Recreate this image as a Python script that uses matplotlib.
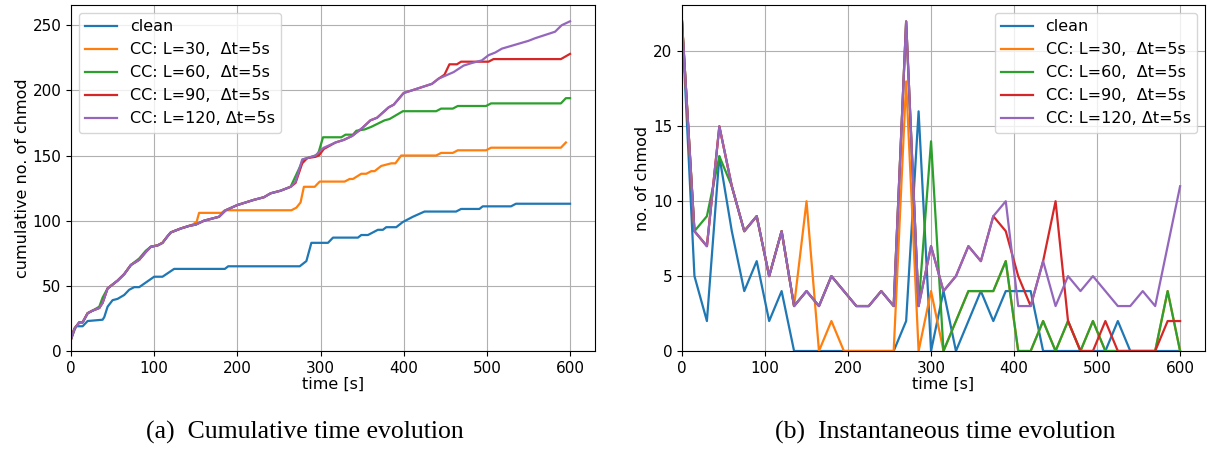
import matplotlib
matplotlib.use('Agg')
import matplotlib.pyplot as plt

# cumulative counts (breakpoints)
clean_cum_t = [0, 6, 14, 20, 38, 40, 44, 50, 56, 64, 70, 76, 82, 100, 110, 124, 185, 189, 275, 283,
               289, 309, 315, 345, 349, 357, 369, 375, 379, 391, 399, 405, 411, 425, 463, 469, 491,
               495, 529, 535, 600]
clean_cum = [9, 19, 19, 23, 24, 26, 34, 39, 40, 43, 47, 49, 49, 57, 57, 63, 63, 65, 65, 69,
             83, 83, 87, 87, 89, 89, 93, 93, 95, 95, 99, 101, 103, 107, 107, 109, 109,
             111, 111, 113, 113]

l30_cum_t = [0, 4, 10, 14, 20, 26, 34, 38, 44, 50, 56, 64, 72, 82, 90, 96, 104, 110, 116, 120,
             132, 142, 146, 151, 154, 181, 185, 265, 271, 276, 280, 293, 299, 329, 335, 339, 349,
             355, 361, 365, 373, 385, 390, 397, 439, 445, 459, 465, 499, 505, 589, 595]
l30_cum = [9, 17, 22, 22, 29, 31, 33, 37, 48, 51, 54, 59, 66, 70, 76, 80, 81, 83, 88, 91,
           94, 96, 97, 99, 106, 106, 108, 108, 110, 114, 126, 126, 130, 130, 132, 132, 136,
           136, 138, 138, 142, 144, 144, 150, 150, 152, 152, 154, 154, 156, 156, 160]

l60_cum_t = [0, 4, 10, 14, 20, 26, 34, 38, 44, 50, 56, 64, 72, 82, 90, 96, 104, 110, 116, 120,
             132, 142, 150, 160, 178, 186, 200, 220, 232, 240, 252, 264, 275, 279, 284, 294, 297,
             303, 325, 330, 339, 343, 353, 361, 377, 383, 399, 439, 445, 459, 465, 499, 505, 589,
             595, 600]
l60_cum = [9, 17, 22, 22, 29, 31, 34, 41, 48, 51, 54, 59, 66, 71, 77, 80, 81, 83, 88, 91,
           94, 96, 97, 100, 103, 108, 112, 116, 118, 121, 123, 126, 141, 147, 148, 150, 151,
           164, 164, 166, 166, 169, 170, 172, 177, 178, 184, 184, 186, 186, 188, 188, 190, 190,
           194, 194]

l90_cum_t = [0, 4, 10, 14, 20, 26, 34, 38, 44, 50, 56, 64, 72, 82, 90, 96, 104, 110, 116, 120,
             132, 142, 150, 160, 178, 186, 200, 220, 232, 240, 252, 264, 270, 278, 284, 294, 298,
             304, 318, 328, 338, 350, 360, 368, 382, 388, 400, 410, 434, 442, 449, 455, 464, 469,
             502, 508, 589, 600]
l90_cum = [9, 17, 22, 22, 29, 31, 33, 37, 48, 51, 54, 59, 66, 70, 76, 80, 81, 83, 88, 91,
           94, 96, 97, 100, 103, 108, 112, 116, 118, 121, 123, 126, 129, 144, 148, 149, 150,
           155, 160, 162, 165, 171, 177, 179, 187, 189, 198, 200, 205, 209, 212, 220, 220, 222,
           222, 224, 224, 228]

l120_cum_t = [0, 4, 10, 14, 20, 26, 34, 38, 44, 50, 56, 64, 72, 82, 90, 96, 104, 110, 116, 120,
              132, 142, 150, 160, 178, 186, 200, 220, 232, 240, 252, 264, 270, 278, 284, 294, 300,
              304, 318, 328, 338, 350, 360, 368, 382, 388, 400, 410, 434, 442, 460, 472, 482, 494,
              502, 510, 518, 534, 550, 558, 582, 590, 600]
l120_cum = [9, 17, 22, 22, 29, 31, 33, 37, 48, 51, 54, 59, 66, 70, 76, 80, 81, 83, 88, 91,
            94, 96, 97, 100, 103, 108, 112, 116, 118, 121, 123, 126, 130, 147, 148, 150, 154,
            156, 160, 162, 165, 171, 177, 179, 187, 189, 198, 200, 205, 209, 214, 219, 221, 223,
            227, 229, 232, 235, 238, 240, 245, 250, 253]

# instantaneous counts, one value every 15 s (right panel)
inst_t = [0, 15, 30, 45, 60, 75, 90, 105, 120, 135, 150, 165, 180, 195, 210, 225, 240, 255, 270, 285,
          300, 315, 330, 345, 360, 375, 390, 405, 420, 435, 450, 465, 480, 495, 510, 525, 540, 555,
          570, 585, 600]
clean_inst = [22, 5, 2, 13, 8, 4, 6, 2, 4, 0, 0, 0, 0, 0, 0, 0, 0, 0, 2, 16,
              0, 4, 0, 2, 4, 2, 4, 4, 4, 0, 0, 0, 0, 0, 0, 2, 0, 0, 0, 0, 0]
l30_inst = [22, 8, 7, 15, 11, 8, 9, 5, 8, 3, 10, 0, 2, 0, 0, 0, 0, 0, 18, 0,
            4, 0, 2, 4, 4, 4, 6, 0, 0, 2, 0, 2, 0, 2, 0, 0, 0, 0, 0, 4, 0]
l60_inst = [22, 8, 9, 13, 11, 8, 9, 5, 8, 3, 4, 3, 5, 4, 3, 3, 4, 3, 22, 3,
            14, 0, 2, 4, 4, 4, 6, 0, 0, 2, 0, 2, 0, 2, 0, 0, 0, 0, 0, 4, 0]
l90_inst = [22, 8, 7, 15, 11, 8, 9, 5, 8, 3, 4, 3, 5, 4, 3, 3, 4, 3, 22, 3,
            7, 4, 5, 7, 6, 9, 8, 5, 3, 6, 10, 2, 0, 0, 2, 0, 0, 0, 0, 2, 2]
l120_inst = [22, 8, 7, 15, 11, 8, 9, 5, 8, 3, 4, 3, 5, 4, 3, 3, 4, 3, 22, 3,
             7, 4, 5, 7, 6, 9, 10, 3, 3, 6, 3, 5, 4, 5, 4, 3, 3, 4, 3, 7, 11]

labels = ['clean', 'CC: L=30,  \u0394t=5s', 'CC: L=60,  \u0394t=5s',
          'CC: L=90,  \u0394t=5s', 'CC: L=120, \u0394t=5s']

plt.rcParams['font.size'] = 11.5
plt.rcParams['xtick.labelsize'] = 11
plt.rcParams['ytick.labelsize'] = 11
fig = plt.figure(figsize=(12.07, 4.49), dpi=100)
ax1 = fig.add_axes([71/1207, 98/449, 524/1207, 346/449])
ax2 = fig.add_axes([682/1207, 98/449, 523/1207, 346/449])

cum = [(clean_cum_t, clean_cum), (l30_cum_t, l30_cum), (l60_cum_t, l60_cum),
       (l90_cum_t, l90_cum), (l120_cum_t, l120_cum)]
for (t, v), lab in zip(cum, labels):
    ax1.plot(t, v, lw=1.6, label=lab)
ax1.set_xlim(left=0, right=630)
ax1.set_ylim(bottom=0, top=265.5)
ax1.set_xticks([0, 100, 200, 300, 400, 500, 600])
ax1.set_xlabel('time [s]', labelpad=1)
ax1.set_ylabel('cumulative no. of chmod', labelpad=2)
ax1.grid(True)
ax1.legend(loc='upper left')

for v, lab in zip([clean_inst, l30_inst, l60_inst, l90_inst, l120_inst], labels):
    ax2.plot(inst_t, v, lw=1.6, label=lab)
ax2.set_xlim(left=0, right=630)
ax2.set_ylim(bottom=0, top=23.1)
ax2.set_xticks([0, 100, 200, 300, 400, 500, 600])
ax2.set_xlabel('time [s]', labelpad=1)
ax2.set_ylabel('no. of chmod', labelpad=2)
ax2.grid(True)
ax2.legend(loc='upper right')

fig.text(305/1207, 0.036, '(a)  Cumulative time evolution', ha='center', va='center',
         family='Liberation Serif', fontsize=18.5)
fig.text(945/1207, 0.036, '(b)  Instantaneous time evolution', ha='center', va='center',
         family='Liberation Serif', fontsize=18.5)

plt.savefig('out.png', dpi=100)
